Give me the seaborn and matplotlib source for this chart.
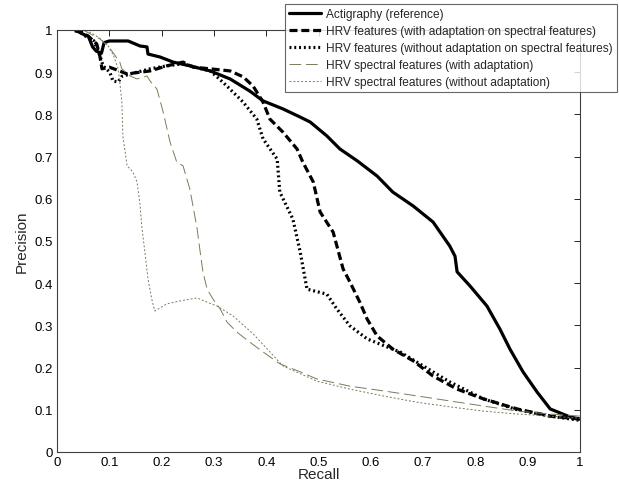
import numpy as np
import pandas as pd
import matplotlib
matplotlib.use('Agg')
import matplotlib.pyplot as plt
import seaborn as sns

# precision-recall curves
act_recall = [0.035, 0.05, 0.06, 0.068, 0.075, 0.085, 0.09, 0.1, 0.136, 0.159, 0.172, 0.174, 0.197, 0.222,
              0.254, 0.293, 0.331, 0.369, 0.394, 0.432, 0.461, 0.484, 0.516, 0.541, 0.574, 0.612, 0.642, 0.681,
              0.719, 0.751, 0.761, 0.765, 0.79, 0.822, 0.847, 0.866, 0.891, 0.918, 0.943, 0.981, 1.0]
act_prec = [1.0, 0.99, 0.985, 0.96, 0.95, 0.945, 0.97, 0.974, 0.974, 0.962, 0.96, 0.943, 0.936, 0.924,
            0.915, 0.903, 0.884, 0.855, 0.832, 0.813, 0.796, 0.782, 0.749, 0.718, 0.69, 0.654, 0.616, 0.583,
            0.545, 0.488, 0.464, 0.427, 0.393, 0.346, 0.291, 0.244, 0.19, 0.142, 0.102, 0.083, 0.078]

ad_recall = [0.034, 0.047, 0.06, 0.076, 0.082, 0.086, 0.1, 0.115, 0.134, 0.159, 0.178, 0.21, 0.241,
             0.26, 0.293, 0.331, 0.356, 0.375, 0.394, 0.407, 0.432, 0.459, 0.47, 0.49, 0.503, 0.528,
             0.547, 0.56, 0.579, 0.593, 0.612, 0.642, 0.681, 0.719, 0.765, 0.815, 0.88, 0.943, 1.0]
ad_prec = [0.998, 0.995, 0.985, 0.967, 0.938, 0.908, 0.912, 0.905, 0.896, 0.9, 0.903, 0.915, 0.924,
           0.912, 0.908, 0.903, 0.889, 0.867, 0.829, 0.789, 0.758, 0.718, 0.687, 0.64, 0.569, 0.521,
           0.434, 0.403, 0.355, 0.315, 0.275, 0.244, 0.216, 0.18, 0.149, 0.126, 0.102, 0.085, 0.078]

noad_recall = [0.038, 0.055, 0.07, 0.082, 0.088, 0.101, 0.107, 0.117, 0.124, 0.14, 0.178, 0.21, 0.241,
               0.27, 0.293, 0.306, 0.325, 0.356, 0.382, 0.394, 0.421, 0.426, 0.451, 0.465, 0.478,
               0.516, 0.535, 0.56, 0.593, 0.631, 0.656, 0.688, 0.751, 0.815, 0.88, 0.943, 1.0]
noad_prec = [1.0, 0.985, 0.975, 0.94, 0.915, 0.9, 0.879, 0.877, 0.89, 0.896, 0.908, 0.915, 0.92,
             0.91, 0.903, 0.889, 0.867, 0.829, 0.789, 0.742, 0.694, 0.616, 0.552, 0.474, 0.386,
             0.374, 0.339, 0.299, 0.268, 0.249, 0.237, 0.213, 0.166, 0.126, 0.1, 0.085, 0.075]

spa_recall = [0.05, 0.065, 0.082, 0.095, 0.105, 0.12, 0.124, 0.14, 0.153, 0.172, 0.178, 0.191, 0.203,
              0.216, 0.229, 0.241, 0.254, 0.26, 0.268, 0.273, 0.279, 0.287, 0.298, 0.312, 0.325,
              0.344, 0.369, 0.394, 0.426, 0.465, 0.497, 0.56, 0.623, 0.688, 0.751, 0.815, 0.88, 0.943, 1.0]
spa_prec = [1.0, 0.99, 0.979, 0.965, 0.95, 0.924, 0.908, 0.891, 0.884, 0.891, 0.879, 0.86, 0.806,
            0.735, 0.687, 0.678, 0.623, 0.583, 0.528, 0.481, 0.427, 0.386, 0.363, 0.339, 0.308,
            0.284, 0.26, 0.237, 0.209, 0.19, 0.173, 0.156, 0.145, 0.133, 0.121, 0.109, 0.097, 0.09, 0.085]

spn_recall = [0.055, 0.07, 0.082, 0.098, 0.108, 0.117, 0.12, 0.124, 0.126, 0.134, 0.145, 0.153, 0.159,
              0.162, 0.168, 0.174, 0.181, 0.187, 0.21, 0.235, 0.268, 0.287, 0.306, 0.337, 0.375,
              0.432, 0.497, 0.56, 0.623, 0.688, 0.751, 0.815, 0.88, 0.943, 1.0]
spn_prec = [1.0, 0.99, 0.98, 0.962, 0.94, 0.908, 0.877, 0.829, 0.749, 0.678, 0.664, 0.64, 0.583,
            0.536, 0.474, 0.41, 0.363, 0.334, 0.351, 0.358, 0.365, 0.355, 0.346, 0.322, 0.28,
            0.204, 0.168, 0.149, 0.133, 0.118, 0.107, 0.097, 0.09, 0.085, 0.08]

labels = ['Actigraphy (reference)',
          'HRV features (with adaptation on spectral features)',
          'HRV features (without adaptation on spectral features)',
          'HRV spectral features (with adaptation)',
          'HRV spectral features (without adaptation)']

sns.set_style('white')
plt.rcParams['font.family'] = ['Liberation Sans', 'DejaVu Sans']

fig = plt.figure(figsize=(6.19, 4.89), dpi=100)
ax = fig.add_axes([57/619, 36/489, 523/619, 422/489])

olive = '#7a7a5c'
sns.lineplot(x=act_recall, y=act_prec, sort=False, estimator=None, ax=ax, color='black', lw=2.3, label=labels[0])
sns.lineplot(x=ad_recall, y=ad_prec, sort=False, estimator=None, ax=ax, color='black', lw=2.3, label=labels[1])
sns.lineplot(x=noad_recall, y=noad_prec, sort=False, estimator=None, ax=ax, color='black', lw=2.3, label=labels[2])
sns.lineplot(x=spa_recall, y=spa_prec, sort=False, estimator=None, ax=ax, color=olive, lw=0.7, label=labels[3])
sns.lineplot(x=spn_recall, y=spn_prec, sort=False, estimator=None, ax=ax, color=olive, lw=0.7, label=labels[4])

lines = ax.get_lines()
lines[1].set_dashes([2.5, 1.2])
lines[2].set_dashes([0.6, 0.9])
lines[3].set_dashes([12, 5])
lines[4].set_dashes([2, 2])

ax.set_xlim(0, 1)
ax.set_ylim(0, 1)
ticks = np.arange(0, 1.01, 0.1)
tlabels = ['0'] + ['%.1f' % t for t in ticks[1:-1]] + ['1']
ax.set_xticks(ticks)
ax.set_xticklabels(tlabels)
ax.set_yticks(ticks)
ax.set_yticklabels(tlabels)
ax.tick_params(direction='in', length=4, width=0.6, top=True, right=True, labelsize=9.5, pad=3, colors='black')
for s in ax.spines.values():
    s.set_color('#404040')
    s.set_linewidth(0.8)
ax.set_xlabel('Recall', fontsize=11, labelpad=-1)
ax.set_ylabel('Precision', fontsize=11, labelpad=4)

leg = ax.legend(loc='upper right', bbox_to_anchor=(617/619, 1 - 5/489), bbox_transform=fig.transFigure,
                fontsize=8.6, frameon=True, fancybox=False, edgecolor='#404040', borderpad=0.35,
                labelspacing=0.42, handlelength=2.7, handletextpad=0.4, borderaxespad=0)
leg.get_frame().set_linewidth(0.8)

fig.savefig('out.png', dpi=100)
